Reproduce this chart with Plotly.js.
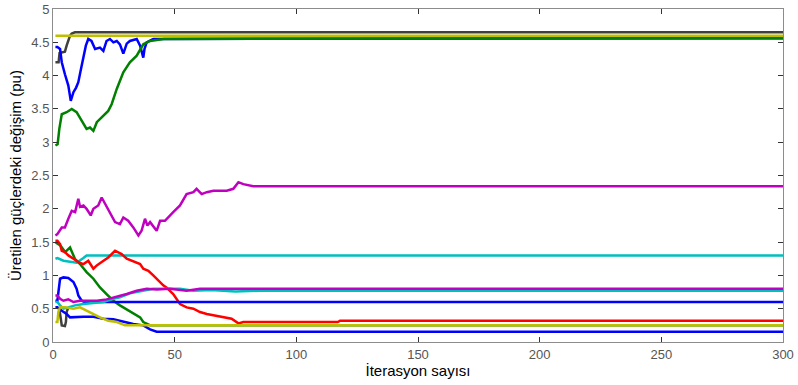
<!DOCTYPE html>
<html>
<head>
<meta charset="utf-8">
<script src="https://cdn.plot.ly/plotly-3.0.1.min.js"></script>
<style>html,body{margin:0;padding:0;background:#fff;}#chart{width:798px;height:385px;}</style>
</head>
<body>
<div id="chart"></div>
<script>
// ---- data ----
const grayTopX = [1,2.3,2.7,4.9,5.6,6.3,7.0,7.7,9,300];
const grayTopY = [4.2,4.2,4.34,4.36,4.45,4.53,4.6,4.63,4.65,4.65];

const blueTopX = [1,1.8,2.9,3.6,4.9,6.3,7.3,8.4,9.5,10.4,11.5,12.5,13.5,14.5,15.8,17.3,19.3,20.7,22,23.4,24.8,26.2,27.5,28.9,30.3,31.6,33,34.4,35.8,37.1,37.6,38.5,41.2,45,50,300];
const blueTopY = [4.43,4.43,4.4,4.2,4.02,3.85,3.62,3.75,3.82,3.9,4.1,4.27,4.45,4.55,4.52,4.4,4.42,4.37,4.52,4.55,4.5,4.52,4.47,4.33,4.48,4.52,4.53,4.55,4.45,4.27,4.4,4.5,4.55,4.55,4.56,4.56];

const greenTopX = [1,1.9,2.6,3.6,5.6,7.7,9.7,11.8,13.8,15.2,16.6,18,20.7,22.7,24.1,26.2,28.9,31.6,34.4,35.8,37.1,39.9,45.5,300];
const greenTopY = [2.95,2.97,3.2,3.42,3.45,3.5,3.45,3.32,3.2,3.22,3.17,3.3,3.4,3.47,3.57,3.8,4.05,4.2,4.3,4.4,4.47,4.52,4.55,4.56];

const yellowTopX = [1,300];
const yellowTopY = [4.6,4.6];

const magentaTopX = [1,1.8,3.6,4.9,6.3,7.7,9.1,10.4,11.1,12.5,13.8,15.5,16.6,18.6,20,21.4,23.4,25.5,27.5,28.9,30.9,33,35.1,36.4,37.8,38.8,39.9,42.6,44,46,49.4,52.2,54.9,57.7,59,61.1,63.2,65.9,71.4,74.1,76.2,78.2,82.3,300];
const magentaTopY = [1.6,1.62,1.72,1.72,1.85,1.97,1.95,2.15,2.03,2.05,2.0,1.9,2.0,2.05,2.17,2.07,1.95,1.8,1.77,1.87,1.82,1.72,1.6,1.67,1.85,1.75,1.8,1.67,1.82,1.82,1.95,2.05,2.22,2.25,2.3,2.22,2.25,2.27,2.27,2.3,2.4,2.37,2.34,2.34];

const cyanTopX = [1,1.8,4.3,7,9.7,12.5,13.8,300];
const cyanTopY = [1.25,1.26,1.22,1.2,1.19,1.26,1.3,1.3];

const greenLowX = [1,3,5,6.3,7,7.7,9,11.1,13.8,16.6,19.3,22,24.8,27.5,30.3,33.7,35.8,37.1,38.5,40,300];
const greenLowY = [1.5,1.45,1.35,1.4,1.42,1.36,1.25,1.17,1.05,0.95,0.82,0.72,0.62,0.55,0.49,0.42,0.37,0.3,0.27,0.25,0.25];

const redX = [1,1.8,2.9,3.6,4.9,6.3,8.4,10.4,12.5,14.5,16.6,18,20,22.7,25.5,28.2,30.3,33.7,35.8,37.1,39.2,41.2,43.3,45.3,46.6,49.4,52.2,54.9,57.7,60.4,63.2,65.9,70,73.4,76.2,78.2,82.3,117,118,300];
const redY = [1.52,1.52,1.47,1.37,1.35,1.3,1.25,1.2,1.17,1.22,1.1,1.15,1.2,1.27,1.37,1.32,1.25,1.2,1.17,1.1,1.07,1.0,0.92,0.85,0.82,0.72,0.57,0.52,0.5,0.45,0.42,0.4,0.37,0.35,0.28,0.3,0.3,0.3,0.32,0.32];

const blueMidX = [1,1.8,2.9,4.3,6.3,8.4,9.7,10.4,11.8,13,300];
const blueMidY = [0.62,0.62,0.95,0.97,0.96,0.9,0.8,0.7,0.62,0.6,0.6];

const cyanLowX = [1,1.8,2.9,4.3,6.3,9,12.5,16.6,20.7,24.8,27.5,31.6,35.8,41.2,46.7,52.2,57.7,65,75,85,300];
const cyanLowY = [0.6,0.6,0.55,0.5,0.52,0.55,0.57,0.58,0.6,0.65,0.67,0.73,0.76,0.8,0.8,0.8,0.77,0.78,0.76,0.77,0.77];

const magentaLowX = [1,1.8,2.9,4.3,6.3,8.4,11.1,14,18,22,26.2,30.3,34.4,38.5,42.6,48,54.9,57.7,60.4,300];
const magentaLowY = [0.7,0.7,0.65,0.62,0.64,0.6,0.62,0.62,0.62,0.64,0.68,0.72,0.77,0.8,0.79,0.8,0.77,0.78,0.8,0.8];

const grayLowX = [2,2.6,3.2,3.6,4.9,5.3,5.6,6.3];
const grayLowY = [0.5,0.5,0.35,0.25,0.24,0.3,0.45,0.52];

const blueLowX = [1,1.8,3.6,5.6,7,9.7,12.5,16.6,20.7,24.8,28.9,33,37.1,39.9,42.6,300];
const blueLowY = [0.52,0.52,0.47,0.42,0.37,0.38,0.38,0.38,0.35,0.34,0.3,0.27,0.25,0.19,0.155,0.155];

const yellowLowX = [1,1.8,2.2,2.9,5,8.4,11.1,13.8,16.6,19.3,22.7,26.2,29.6,300];
const yellowLowY = [0.3,0.3,0.45,0.52,0.52,0.5,0.52,0.47,0.42,0.37,0.32,0.3,0.25,0.25];

const xTickVals = [0,50,100,150,200,250,300];
const yTickVals = [0,0.5,1,1.5,2,2.5,3,3.5,4,4.5,5];
const xTitle = 'İterasyon sayısı';
const yTitle = 'Üretilen güçlerdeki değişim (pu)';

// ---- styles ----
const C = {blue:'#0000ff', green:'#008000', red:'#ff0000', cyan:'#00bfbf', magenta:'#bf00bf', yellow:'#bfbf00', gray:'#404040'};
const series = [
  [grayTopX, grayTopY, C.gray],
  [blueTopX, blueTopY, C.blue],
  [greenTopX, greenTopY, C.green],
  [yellowTopX, yellowTopY, C.yellow],
  [magentaTopX, magentaTopY, C.magenta],
  [cyanTopX, cyanTopY, C.cyan],
  [greenLowX, greenLowY, C.green],
  [redX, redY, C.red],
  [blueMidX, blueMidY, C.blue],
  [cyanLowX, cyanLowY, C.cyan],
  [magentaLowX, magentaLowY, C.magenta],
  [grayLowX, grayLowY, C.gray],
  [blueLowX, blueLowY, C.blue],
  [yellowLowX, yellowLowY, C.yellow]
];
const traces = series.map(s => ({
  x: s[0], y: s[1], type: 'scatter', mode: 'lines',
  line: {color: s[2], width: 2.5}, hoverinfo: 'skip'
}));

const axisCommon = {
  showgrid: false, zeroline: false, showline: true, linecolor: '#8c8c8c', linewidth: 1,
  mirror: 'ticks', ticks: 'inside', ticklen: 5, tickcolor: '#333', tickwidth: 1,
  tickfont: {family: 'Liberation Sans, Arial, sans-serif', size: 13, color: '#555'}
};
const layout = {
  width: 798, height: 385,
  margin: {l: 53, r: 15, t: 9, b: 43},
  paper_bgcolor: '#fff', plot_bgcolor: '#fff',
  showlegend: false,
  xaxis: Object.assign({}, axisCommon, {
    range: [0, 300], tickvals: xTickVals, ticktext: xTickVals.map(String),
    title: {text: xTitle, font: {family: 'Liberation Sans, Arial, sans-serif', size: 15, color: '#000'}, standoff: 4}
  }),
  yaxis: Object.assign({}, axisCommon, {
    range: [0, 5], tickvals: yTickVals, ticktext: yTickVals.map(String),
    title: {text: yTitle, font: {family: 'Liberation Sans, Arial, sans-serif', size: 15, color: '#000'}, standoff: 6}
  })
};
Plotly.newPlot('chart', traces, layout, {displayModeBar: false, staticPlot: true});
</script>
</body>
</html>
